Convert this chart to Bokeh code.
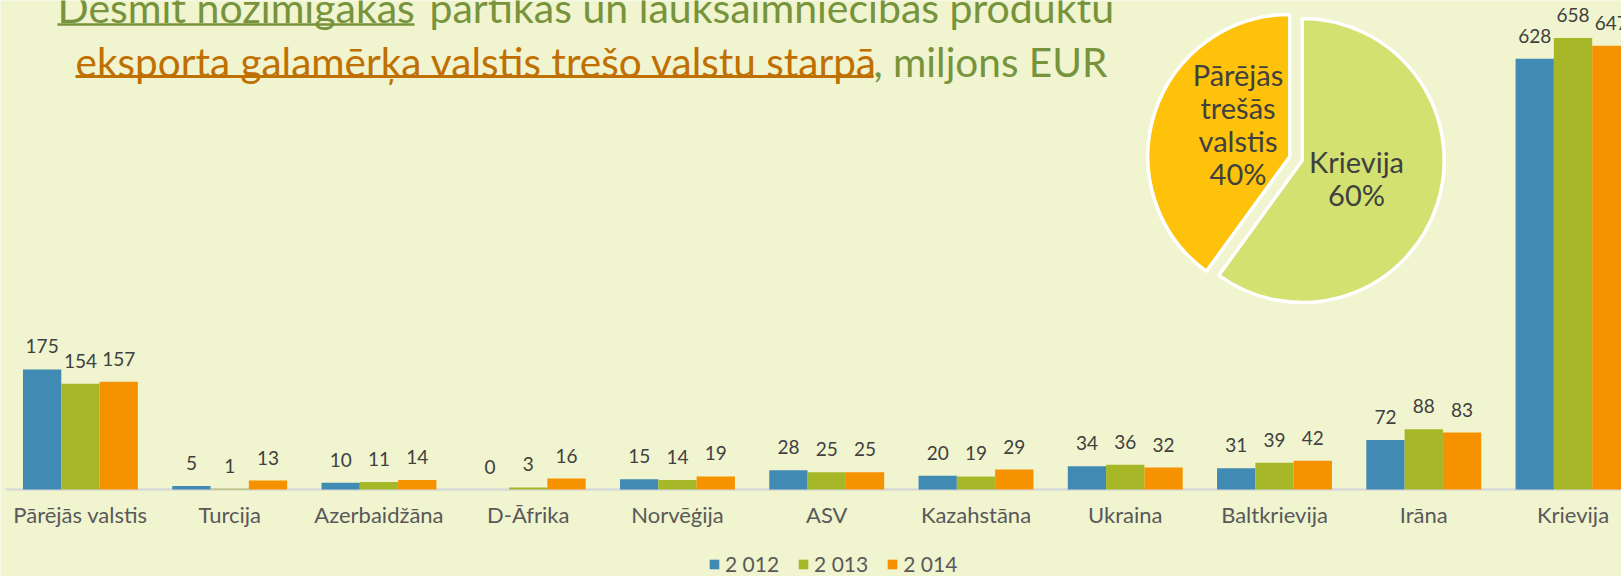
import numpy as np
from bokeh.plotting import figure
from bokeh.models import Range1d, Legend, LegendItem, ColumnDataSource
from bokeh.core.properties import value
from bokeh.embed import file_html
from bokeh.resources import INLINE

# ---------------- data ----------------
countries = ["Pārējās valstis", "Turcija", "Azerbaidžāna", "D-Āfrika", "Norvēģija",
             "ASV", "Kazahstāna", "Ukraina", "Baltkrievija", "Irāna", "Krievija"]
years = ["2 012", "2 013", "2 014"]
v2012 = [175, 5, 10, 0, 15, 28, 20, 34, 31, 72, 628]
v2013 = [154, 1, 11, 3, 14, 25, 19, 36, 39, 88, 658]
v2014 = [157, 13, 14, 16, 19, 25, 29, 32, 42, 83, 647]
pie_labels = ["Krievija", "Pārējās trešās valstis"]
pie_shares = [60, 40]
title_line1 = ["Desmit nozīmīgākās", "pārtikas un lauksaimniecības produktu"]
title_line2 = ["eksporta galamērķa valstis trešo valstu starpā", ", miljons EUR"]

# ---------------- style / layout ----------------
BG = "#F0F4CF"
BAR_COLORS = ["#418AB3", "#A6B727", "#F69200"]
PIE_COLORS = ["#D3E170", "#FEC20A"]
OLIVE = "#77933C"
BROWN = "#C07000"
FONT = value("Lato")
FIX = 11                 # baseline correction (px)

W, H = 1621, 576
BASE_Y = 489             # page y of the zero line
PX_PER_CAT = 149.26
AXIS_ORIGIN = 5.3        # page x where category band 0 starts
PX_PER_UNIT = 0.686
BW = 0.2566

x0 = (0 - AXIS_ORIGIN) / PX_PER_CAT
x1 = x0 + W / PX_PER_CAT

p = figure(width=W, height=H, output_backend="svg", toolbar_location=None,
           x_range=Range1d(x0, x1),
           y_range=Range1d(-(H - BASE_Y) / PX_PER_UNIT, BASE_Y / PX_PER_UNIT),
           x_axis_location=None, y_axis_location=None,
           min_border_left=0, min_border_right=0, min_border_top=0, min_border_bottom=0,
           background_fill_color=BG, border_fill_color=BG, outline_line_color=None)
p.grid.visible = False

# pixel helper ranges for free-placed text and pie (data y = -page_y)
p.extra_x_ranges = {"px": Range1d(0, W)}
p.extra_y_ranges = {"px": Range1d(-H, 0)}

n = len(countries)
centers = np.arange(n) + 0.5

# category axis line
p.segment(x0=[0], y0=[0], x1=[n], y1=[0], line_color="#D9D9D9", line_width=2.5)

series = [v2012, v2013, v2014]
renderers = []
for k, vals in enumerate(series):
    xs = centers + (k - 1) * BW
    src = ColumnDataSource(dict(x=xs, top=vals, lab=[str(v) for v in vals]))
    r = p.vbar(x="x", top="top", width=BW, source=src,
               fill_color=BAR_COLORS[k], line_color=None)
    renderers.append(r)
    p.text(x="x", y="top", text="lab", source=src, text_align="center",
           text_baseline="alphabetic", y_offset=-23, text_font=FONT,
           text_font_size="19px", text_color="#404040")

# category labels
p.text(x=centers, y=[0] * n, text=countries, text_align="center",
       text_baseline="alphabetic", y_offset=36 - FIX, text_font=FONT,
       text_font_size="22px", text_color="#595959")

# legend
legend = Legend(items=[LegendItem(label=years[k], renderers=[renderers[k]]) for k in range(3)],
                orientation="horizontal", location=(708, 0),
                glyph_width=12, glyph_height=12, label_standoff=5, spacing=18,
                padding=0, margin=0, border_line_color=None, background_fill_alpha=0,
                label_text_font="Lato", label_text_font_size="21px",
                label_text_color="#595959")
p.add_layout(legend)

# title
def tkw(size):
    return dict(x_range_name="px", y_range_name="px", text_font=FONT,
                text_font_size=size, text_baseline="alphabetic", text_align="left")

p.text(x=[57], y=[-(18.3 - FIX)], text=[title_line1[0]], text_color=OLIVE, **tkw("41px"))
p.text(x=[429], y=[-(18.3 - FIX)], text=[title_line1[1]], text_color=OLIVE, **tkw("41px"))
p.text(x=[75], y=[-(71.8 - FIX)], text=[title_line2[0]], text_color=BROWN, **tkw("40.5px"))
p.text(x=[873], y=[-(71.8 - FIX)], text=[title_line2[1]], text_color=OLIVE, **tkw("40.5px"))
p.segment(x0=[57], y0=[-24], x1=[414], y1=[-24], line_color=OLIVE, line_width=2.5,
          x_range_name="px", y_range_name="px")
p.segment(x0=[75], y0=[-76], x1=[873], y1=[-76], line_color=BROWN, line_width=3,
          x_range_name="px", y_range_name="px")

# pie (clockwise from 12 o'clock)
fr = np.array(pie_shares, dtype=float) / sum(pie_shares)
cum = np.concatenate([[0], np.cumsum(fr)])
start = np.deg2rad(90 - 360 * cum[1:])
end = np.deg2rad(90 - 360 * cum[:-1])
pie_cx = [1301.7, 1289.3]
pie_cy = [-160, -156]
p.wedge(x=pie_cx, y=pie_cy, radius=142, radius_units="screen",
        start_angle=start, end_angle=end, fill_color=PIE_COLORS,
        line_color="white", line_width=3.5, x_range_name="px", y_range_name="px")

pkw = dict(x_range_name="px", y_range_name="px", text_font=FONT, text_font_size="29px",
           text_baseline="alphabetic", text_align="center", text_color="#404040")
k_lines = [pie_labels[0], f"{pie_shares[0]}%"]
p.text(x=[1356] * 2, y=[-(171.7 - FIX), -(205 - FIX)], text=k_lines, **pkw)
o_lines = pie_labels[1].split(" ") + [f"{pie_shares[1]}%"]
p.text(x=[1237.5] * 4, y=[-(85 - FIX), -(118 - FIX), -(151 - FIX), -(184 - FIX)],
       text=o_lines, **pkw)

open("out.html", "w").write(file_html(p, INLINE))
